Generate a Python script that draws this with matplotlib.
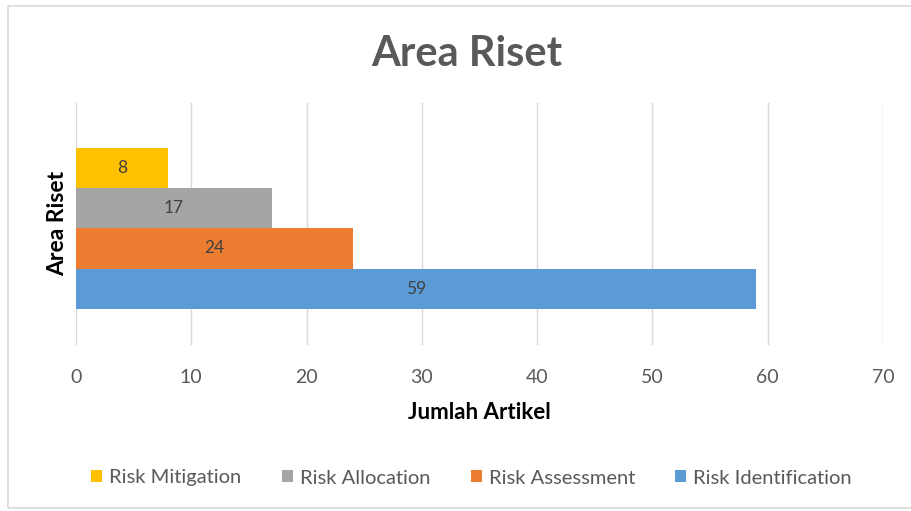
import matplotlib.pyplot as plt
from matplotlib.patches import Rectangle

plt.rcParams['font.family'] = ['Lato', 'DejaVu Sans']

# data (top to bottom in the chart)
areas = ["Risk Mitigation", "Risk Allocation", "Risk Assessment", "Risk Identification"]
counts = [8, 17, 24, 59]
colors = ["#FFC000", "#A5A5A5", "#ED7D31", "#5B9BD5"]
x_ticks = [0, 10, 20, 30, 40, 50, 60, 70]

fig = plt.figure(figsize=(9.12, 5.11), dpi=100)
ax = fig.add_axes([0.0833, 0.325, 0.885, 0.4736])

# chart border
fig.patches.append(Rectangle((8 / 912, 3 / 511), 1.0, 502 / 511, transform=fig.transFigure,
                             fill=False, edgecolor="#D9D9D9", linewidth=1.2))

# bars stacked with no gaps, Identification at the bottom
n = len(areas)
for i, (name, val, col) in enumerate(zip(areas, counts, colors)):
    y = n - 1 - i
    ax.barh(y, val, height=1.0, color=col, label=name, zorder=3)
    ax.text(val / 2, y, str(val), ha="center", va="center", fontsize=12.5,
            color="#404040", zorder=4)

ax.set_xlim(0, 70)
ax.set_ylim(-1.4, 4.62)
ax.set_xticks(x_ticks)
ax.set_yticks([])
ax.grid(axis="x", color="#D9D9D9", linewidth=1, zorder=0)
for s in ax.spines.values():
    s.set_visible(False)
ax.tick_params(axis="x", length=0, pad=17, labelsize=14, labelcolor="#595959")

ax.set_xlabel("Jumlah Artikel", fontsize=16, fontweight="bold", labelpad=12)
ax.set_ylabel("Area Riset", fontsize=16.5, fontweight="bold", labelpad=6)

fig.text(0.512, 1 - 54 / 511, "Area Riset", ha="center", va="center",
         fontsize=30, fontweight="bold", color="#595959")

fig.legend(loc="center", bbox_to_anchor=(0.517, 1 - 478 / 511), ncol=4, frameon=False,
           fontsize=14.5, labelcolor="#595959", handlelength=0.55, handleheight=0.55,
           handletextpad=0.35, columnspacing=2.0)

fig.savefig("out.png", dpi=100)
